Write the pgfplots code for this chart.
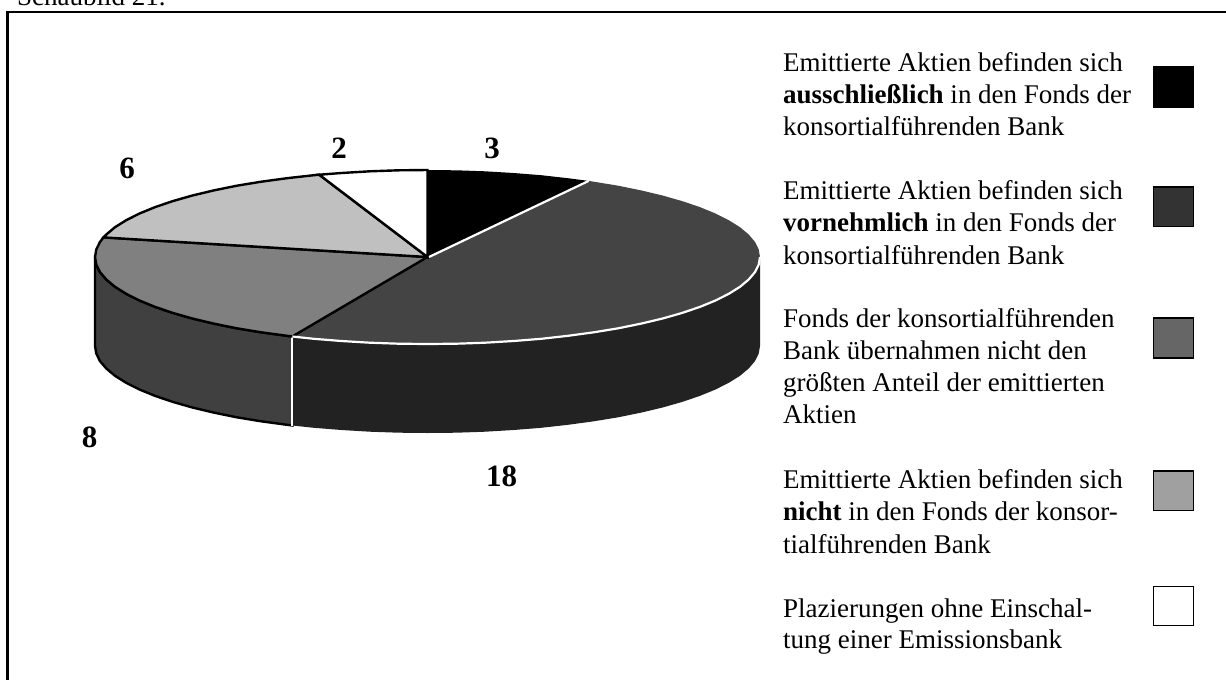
\documentclass[border=0pt]{standalone}
\usepackage{pgfplots}
\pgfplotsset{compat=1.18}
\usepackage{fontspec}
\setmainfont{Liberation Serif}
\definecolor{topdark}{HTML}{444444}
\definecolor{topmed}{HTML}{808080}
\definecolor{toplight}{HTML}{C0C0C0}
\definecolor{sidedark}{HTML}{222222}
\definecolor{sidemed}{HTML}{404040}
\definecolor{legdark}{HTML}{333333}
\definecolor{legmed}{HTML}{666666}
\definecolor{leglight}{HTML}{A0A0A0}
\newcommand{\lt}[3]{\node[anchor=base west,inner sep=0pt,font=\fontsize{27bp}{32bp}\selectfont] at (axis cs:#1,#2) {#3};}
\newcommand{\num}[3]{\node[anchor=base,inner sep=0pt,font=\fontsize{31bp}{36bp}\selectfont\bfseries] at (axis cs:#1,#2) {#3};}
\begin{document}
\begin{tikzpicture}
\useasboundingbox (0,0) rectangle (1226bp,680bp);
\clip (0,0) rectangle (1226bp,680bp);
\begin{axis}[at={(0,0)},anchor=south west,scale only axis,width=1226bp,height=680bp,
  xmin=0,xmax=1226,ymin=0,ymax=680,y dir=reverse,hide axis,clip=false]
% frame: open at the right and at the bottom
\addplot[black,line width=2.6bp,line join=miter] coordinates {(7.5,680)(7.5,12)(1226,12)};
% sides
\addplot[fill=sidemed,draw=black,line width=2.4bp] coordinates {(95,257)(96.3,264.6)(100,272.1)(106.3,279.5)(115,286.8)(126.2,293.8)(139.5,300.5)(155.1,306.9)(172.8,312.9)(192.4,318.5)(213.8,323.6)(236.8,328.3)(261.2,332.3)(287,335.8)(292.3,336.5)(292.3,425.5)(287,424.8)(261.2,421.3)(236.8,417.3)(213.8,412.6)(192.4,407.5)(172.8,401.9)(155.1,395.9)(139.5,389.5)(126.2,382.8)(115,375.8)(106.3,368.5)(100,361.1)(96.3,353.6)(95,346)} -- cycle;
\addplot[fill=sidedark,draw=none] coordinates {(292.3,336.5)(313.8,338.8)(341.4,341)(369.8,342.7)(398.5,343.7)(427.5,344)(456.5,343.7)(485.2,342.7)(513.6,341)(541.2,338.8)(568,335.8)(593.8,332.3)(618.2,328.3)(641.2,323.6)(662.6,318.5)(682.2,312.9)(699.9,306.9)(715.5,300.5)(728.8,293.8)(740,286.8)(748.7,279.5)(755,272.1)(758.7,264.6)(760,257)(760,346)(758.7,353.6)(755,361.1)(748.7,368.5)(740,375.8)(728.8,382.8)(715.5,389.5)(699.9,395.9)(682.2,401.9)(662.6,407.5)(641.2,412.6)(618.2,417.3)(593.8,421.3)(568,424.8)(541.2,427.8)(513.6,430)(485.2,431.7)(456.5,432.7)(427.5,433)(398.5,432.7)(369.8,431.7)(341.4,430)(313.8,427.8)(292.3,425.5)} -- cycle;
\addplot[white,line width=2.2bp] coordinates {(292.3,337)(292.3,426)};
% top wedges
\addplot[fill=topdark,draw=none] coordinates {(427.5,257)(588.7,180.9)(593.8,181.7)(618.2,185.7)(641.2,190.4)(662.6,195.5)(682.2,201.1)(699.9,207.1)(715.5,213.5)(728.8,220.2)(740,227.2)(748.7,234.5)(755,241.9)(758.7,249.4)(760,257)(758.7,264.6)(755,272.1)(748.7,279.5)(740,286.8)(728.8,293.8)(715.5,300.5)(699.9,306.9)(682.2,312.9)(662.6,318.5)(641.2,323.6)(618.2,328.3)(593.8,332.3)(568,335.8)(541.2,338.8)(513.6,341)(485.2,342.7)(456.5,343.7)(427.5,344)(398.5,343.7)(369.8,342.7)(341.4,341)(313.8,338.8)(292.3,336.5)} -- cycle;
\addplot[fill=topmed,draw=black,line width=2.4bp] coordinates {(427.5,257)(292.3,336.5)(287,335.8)(261.2,332.3)(236.8,328.3)(213.8,323.6)(192.4,318.5)(172.8,312.9)(155.1,306.9)(139.5,300.5)(126.2,293.8)(115,286.8)(106.3,279.5)(100,272.1)(96.3,264.6)(95,257)(96.3,249.4)(100,241.9)(103.5,237.4)} -- cycle;
\addplot[fill=toplight,draw=black,line width=2.4bp] coordinates {(427.5,257)(103.5,237.4)(106.3,234.5)(115,227.2)(126.2,220.2)(139.5,213.5)(155.1,207.1)(172.8,201.1)(192.4,195.5)(213.8,190.4)(236.8,185.7)(261.2,181.7)(287,178.2)(313.8,175.2)(319.2,174.7)} -- cycle;
\addplot[fill=white,draw=black,line width=2.4bp] coordinates {(427.5,257)(319.2,174.7)(341.4,173)(369.8,171.3)(398.5,170.3)(427.5,170)} -- cycle;
\addplot[fill=black,draw=none] coordinates {(427.5,257)(427.5,170)(456.5,170.3)(485.2,171.3)(513.6,173)(541.2,175.2)(568,178.2)(588.7,180.9)} -- cycle;
% white edges of the large wedge
\addplot[white,line width=2.2bp] coordinates {(429,257)(588.7,180.9)};
\addplot[white,line width=2.2bp] coordinates {(760,257)(758.7,264.6)(755,272.1)(748.7,279.5)(740,286.8)(728.8,293.8)(715.5,300.5)(699.9,306.9)(682.2,312.9)(662.6,318.5)(641.2,323.6)(618.2,328.3)(593.8,332.3)(568,335.8)(541.2,338.8)(513.6,341)(485.2,342.7)(456.5,343.7)(427.5,344)(398.5,343.7)(369.8,342.7)(341.4,341)(313.8,338.8)(292.3,336.5)};
% legend swatches
\addplot[fill=black,draw=black,line width=1.8bp] coordinates {(1153.5,67)(1193.5,67)(1193.5,107.5)(1153.5,107.5)} -- cycle;
\addplot[fill=legdark,draw=black,line width=1.8bp] coordinates {(1153.5,187)(1193.5,187)(1193.5,226.5)(1153.5,226.5)} -- cycle;
\addplot[fill=legmed,draw=black,line width=1.8bp] coordinates {(1153.5,318)(1193.5,318)(1193.5,358)(1153.5,358)} -- cycle;
\addplot[fill=leglight,draw=black,line width=1.8bp] coordinates {(1153.5,471)(1193.5,471)(1193.5,510.5)(1153.5,510.5)} -- cycle;
\addplot[fill=white,draw=black,line width=1.8bp] coordinates {(1153.5,586.5)(1193.5,586.5)(1193.5,625.5)(1153.5,625.5)} -- cycle;
% text
\lt{17}{5}{Schaubild 21.}
\lt{783}{71}{Emittierte Aktien befinden sich}
\lt{783}{103}{\textbf{ausschließlich} in den Fonds der}
\lt{783}{135}{konsortialführenden Bank}
\lt{783}{199}{Emittierte Aktien befinden sich}
\lt{783}{231}{\textbf{vornehmlich} in den Fonds der}
\lt{783}{264}{konsortialführenden Bank}
\lt{783}{327}{Fonds der konsortialführenden}
\lt{783}{359}{Bank übernahmen nicht den}
\lt{783}{391}{größten Anteil der emittierten}
\lt{783}{423}{Aktien}
\lt{783}{488}{Emittierte Aktien befinden sich}
\lt{783}{520}{\textbf{nicht} in den Fonds der konsor-}
\lt{783}{553}{tialführenden Bank}
\lt{783}{617}{Plazierungen ohne Einschal-}
\lt{783}{648}{tung einer Emissionsbank}
\num{492}{158}{3}
\num{339}{158}{2}
\num{127}{178}{6}
\num{89.5}{447}{8}
\num{501.5}{486}{18}
\end{axis}
\end{tikzpicture}
\end{document}
